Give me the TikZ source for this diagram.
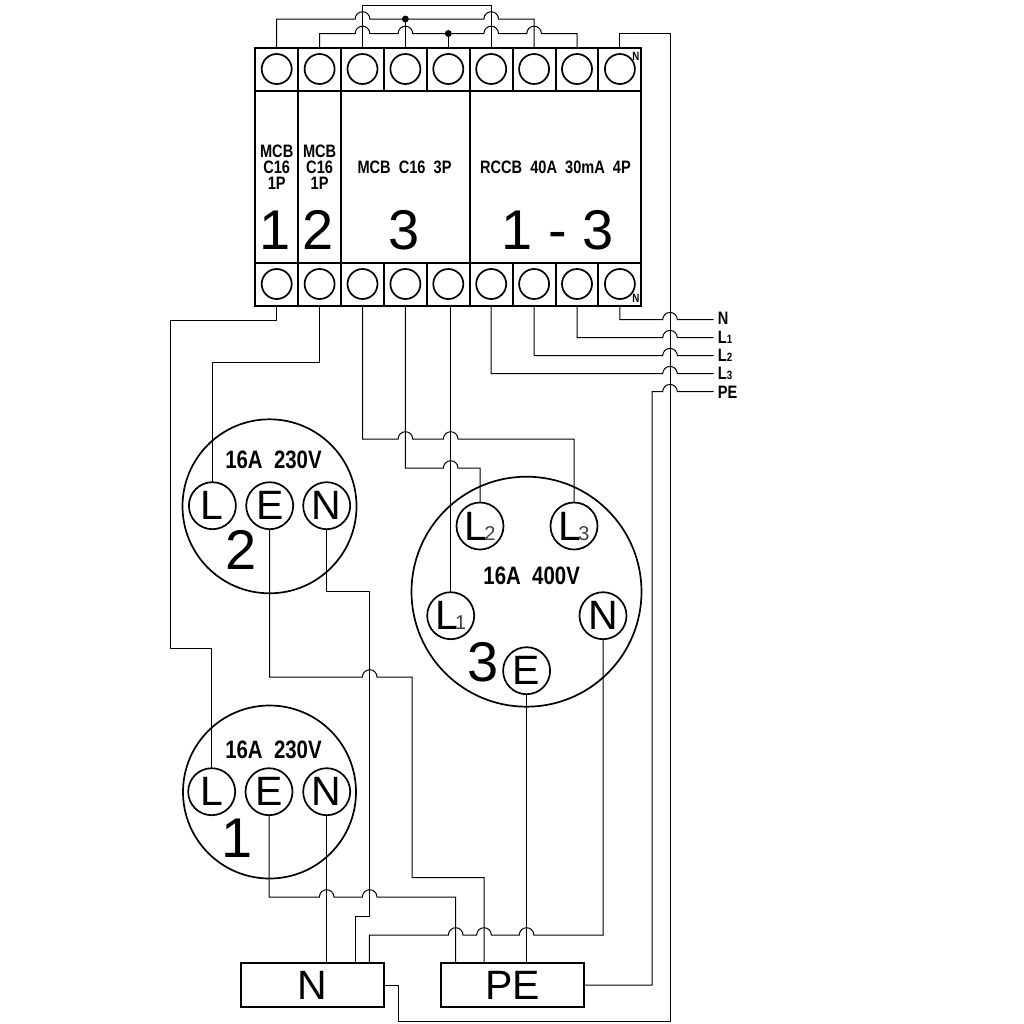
\documentclass[tikz,border=0pt]{standalone}
\usepackage{fontspec}
\setmainfont{Liberation Sans}
\newfontfamily\narrowfont[FakeStretch=0.81]{Liberation Sans}
\usetikzlibrary{calc}

% hop of a wire over a vertical one, going right or left
\newcommand{\hopR}[2]{-- (#1-7.3,#2) arc[start angle=180,end angle=360,radius=7.3]}
\newcommand{\hopL}[2]{-- (#1+7.3,#2) arc[start angle=0,end angle=-180,radius=7.3]}
\newcommand{\subdigit}[1]{\kern-1.5pt{\color{black!75}\fontsize{10}{10}\selectfont #1}}

\tikzset{
  wire/.style={draw, line width=0.5pt},
  frame/.style={draw, line width=1pt, rectangle, inner sep=0pt, outer sep=0pt},
  cell/.style={frame, minimum width=21.45pt, minimum height=21.5pt, label={[term]center:{}}},
  term/.style={draw, circle, line width=0.85pt, minimum size=15pt, inner sep=0pt},
  socket/.style={draw, circle, line width=0.85pt, inner sep=0pt, outer sep=0pt},
  pin/.style={socket, minimum size=23.5pt, font=\fontsize{20.5}{20.5}\selectfont},
  dot/.style={draw, circle, fill=black, inner sep=0pt, minimum size=3pt},
  small/.style={inner sep=0pt, font=\narrowfont\bfseries\fontsize{9}{8}\selectfont},
  rate/.style={inner sep=0pt, font=\narrowfont\bfseries\fontsize{12.6}{12}\selectfont},
  big/.style={inner sep=0pt, font=\fontsize{28}{28}\selectfont},
  tag/.style={inner sep=0pt, font=\narrowfont\bfseries\fontsize{6}{6}\selectfont},
  block/.style={frame, minimum width=71.8pt, minimum height=21.8pt, font=\fontsize{20.5}{20.5}\selectfont},
  feed/.style={small, anchor=west, inner sep=2pt}
}

\begin{document}
\begin{tikzpicture}[x=0.5pt,y=-0.5pt]
\useasboundingbox (0,0) rectangle (1024,1024);

% top terminals
\node [cell] (tt1) at (276.7,69) {};
\node [cell] (tt2) at (319.6,69) {};
\node [cell] (tt3) at (362.5,69) {};
\node [cell] (tt4) at (405.4,69) {};
\node [cell] (tt5) at (448.3,69) {};
\node [cell] (tt6) at (491.2,69) {};
\node [cell] (tt7) at (534.1,69) {};
\node [cell] (tt8) at (577,69) {};
\node [cell] (tt9) at (619.9,69) {};

% bottom terminals
\node [cell] (tb1) at (276.7,284) {};
\node [cell] (tb2) at (319.6,284) {};
\node [cell] (tb3) at (362.5,284) {};
\node [cell] (tb4) at (405.4,284) {};
\node [cell] (tb5) at (448.3,284) {};
\node [cell] (tb6) at (491.2,284) {};
\node [cell] (tb7) at (534.1,284) {};
\node [cell] (tb8) at (577,284) {};
\node [cell] (tb9) at (619.9,284) {};

% modules
\node [frame, minimum width=21.45pt, minimum height=86pt] (mod1) at (276.7,176.5) {};
\node [frame, minimum width=21.45pt, minimum height=86pt] (mod2) at (319.6,176.5) {};
\node [frame, minimum width=64.35pt, minimum height=86pt] (mod3) at (405.4,176.5) {};
\node [frame, minimum width=85.8pt, minimum height=86pt] (mod4) at (555.5,176.5) {};

\node [small, align=center] (txt1) at (276.7,167) {MCB\\C16\\1P};
\node [small, align=center] (txt2) at (319.6,167) {MCB\\C16\\1P};
\node [small] (txt3) at (404.5,167) {MCB\ \ C16\ \ 3P};
\node [small] (txt4) at (555.5,167) {RCCB\ \ 40A\ \ 30mA\ \ 4P};
\node [big] (num1) at (275,230) {1};
\node [big] (num2) at (317.7,230) {2};
\node [big] (num3) at (404,230) {3};
\node [big] (num4) at (558,230) {1 - 3};
\node [tag] (tagtop) at (636,56) {N};
\node [tag] (tagbot) at (636,298.5) {N};

% sockets
\node [socket, minimum size=87pt] (sock2) at (269.5,506.3) {};
\node [pin] (s2L) at (212.4,505.7) {L};
\node [pin] (s2E) at (269.7,505.7) {E};
\node [pin] (s2N) at (326.7,505.7) {N};
\node [rate] (rate2) at (273.5,460) {16A\ \ 230V};
\node [big] (lab2) at (240.7,550) {2};

\node [socket, minimum size=86.5pt] (sock1) at (269.5,792) {};
\node [pin] (s1L) at (211.7,791.7) {L};
\node [pin] (s1E) at (269,791.7) {E};
\node [pin] (s1N) at (326.7,791.7) {N};
\node [rate] (rate1) at (273.5,750) {16A\ \ 230V};
\node [big] (lab1) at (237,838) {1};

\node [socket, minimum size=115pt] (sock3) at (526.5,591.7) {};
\node [pin] (s3L2) at (480,526) {L\subdigit{2}};
\node [pin] (s3L3) at (574,526) {L\subdigit{3}};
\node [pin] (s3L1) at (450.7,615.7) {L\subdigit{1}};
\node [pin] (s3N) at (603,615.7) {N};
\node [pin] (s3E) at (526.6,670.7) {E};
\node [rate] (rate3) at (531.7,575.7) {16A\ \ 400V};
\node [big] (lab3) at (483,662.7) {3};

% distribution blocks
\node [block] (boxN) at (312.5,985) {N};
\node [block] (boxPE) at (512.4,985) {PE};

% supply labels
\node [feed] (feedN) at (713.5,318) {N};
\node [feed] (feedL1) at (713.5,337) {L{\fontsize{6}{6}\selectfont 1}};
\node [feed] (feedL2) at (713.5,355.5) {L{\fontsize{6}{6}\selectfont 2}};
\node [feed] (feedL3) at (713.5,373.5) {L{\fontsize{6}{6}\selectfont 3}};
\node [feed] (feedPE) at (713.5,392) {PE};

% bridges over the top
\node [dot] (dotA) at (405.4,19) {};
\node [dot] (dotB) at (448.3,33.5) {};
\draw [wire] (tt1.north) |- (300,19) \hopR{362.5}{19} -- (dotA) \hopR{491.2}{19} -| (tt7.north);
\draw [wire] (tt2.north) |- (340,33.5) \hopR{362.5}{33.5} \hopR{405.4}{33.5} -- (dotB) \hopR{491.2}{33.5} \hopR{534.1}{33.5} -| (tt8.north);
\draw [wire] (tt3.north) |- (tt6.north |- 0,5) -- (tt6.north);
\draw [wire] (tt4.north) -- (dotA);
\draw [wire] (tt5.north) -- (dotB);

% neutral round the right side
\coordinate (railN) at (670,1021);
\draw [wire] (tt9.north) |- (railN |- 0,33.5) -- (railN) -| (398,985) -- (boxN.east);

% supply
\draw [wire] (tb9.south) |- (640,319.7) \hopR{670}{319.7} -- (feedN.west |- 0,319.7);
\draw [wire] (tb8.south) |- (640,337.7) \hopR{670}{337.7} -- (feedL1.west |- 0,337.7);
\draw [wire] (tb7.south) |- (640,355.7) \hopR{670}{355.7} -- (feedL2.west |- 0,355.7);
\draw [wire] (tb6.south) |- (640,373.7) \hopR{670}{373.7} -- (feedL3.west |- 0,373.7);
\draw [wire] (feedPE.west |- 0,391.7) \hopL{670}{391.7} -- (652,391.7) |- (boxPE.east);

% phases to the sockets
\draw [wire] (tb1.south) |- (170,320) |- (s1L.north |- 0,648.5) -- (s1L.north);
\draw [wire] (tb2.south) |- (s2L.north |- 0,362.7) -- (s2L.north);
\draw [wire] (tb3.south) |- (390,439) \hopR{405.4}{439} \hopR{450.7}{439} -| (s3L3.north);
\draw [wire] (tb4.south) |- (430,468) \hopR{450.7}{468} -| (s3L2.north);
\draw [wire] (s3L1.north |- tb5.south) -- (s3L1.north);

% earth and neutral to the blocks
\draw [wire] (s2E.south) |- (350,677) \hopR{369.7}{677} -- (412,677) |- (484,877.5) -- (484,963);
\draw [wire] (s1E.south) |- (300,897) \hopR{326.7}{897} \hopR{369.7}{897} -- (455.7,897) -- (455.7,963);
\draw [wire] (s3E.south) -- (s3E.south |- boxPE.north);
\draw [wire] (s2N.south) |- (369.7,591.7) -- (369.7,916.7) -| (355.3,963);
\draw [wire] (s1N.south) -- (s1N.south |- boxN.north);
\draw [wire] (s3N.south) |- (560,935) \hopL{526.6}{935} \hopL{484}{935} \hopL{455.7}{935} -| (369.3,963);
\end{tikzpicture}
\end{document}
